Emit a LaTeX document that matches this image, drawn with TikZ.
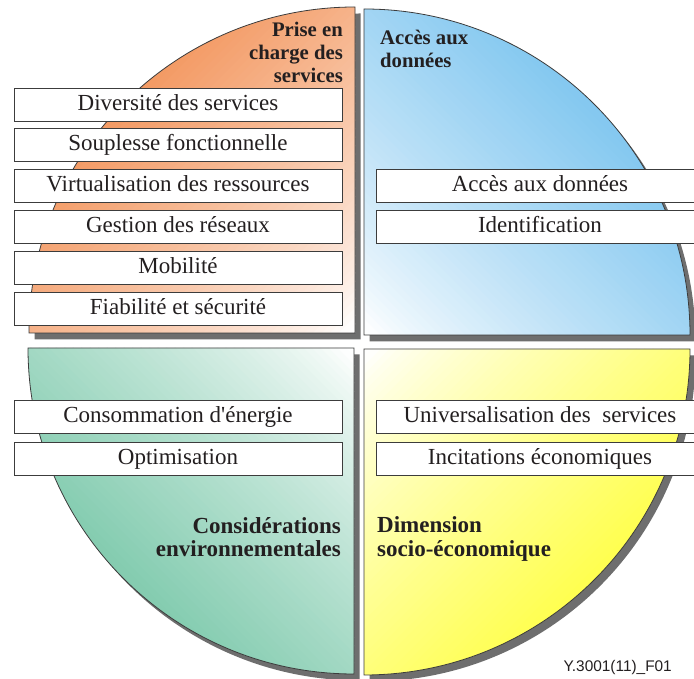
\documentclass[tikz,border=0pt]{standalone}
\usepackage{fontspec}
\setmainfont{Liberation Serif}
\newfontfamily\labelsans{Liberation Sans}
\definecolor{qorange}{HTML}{F39A64}
\definecolor{qblue}{HTML}{84C8F0}
\definecolor{qgreen}{HTML}{84CCB0}
\definecolor{qyellow}{HTML}{FFFF50}
\definecolor{qline}{HTML}{3C3C3C}
\definecolor{qshadow}{HTML}{6E6E6E}
\definecolor{qtext}{HTML}{231F20}
\newcommand\quadgrad[1]{% #1 colour
  \foreach \k in {0,...,57} {
    \pgfmathsetmacro\tA{-12+6*\k}
    \pgfmathsetmacro\pc{100*pow(max(0.001,min(1,(\tA-4)/316)),0.8)}
    \fill[#1!\pc!white] (\tA,-420) rectangle (\tA+6.8,420);
  }}
\begin{document}
\begin{tikzpicture}[x=1pt,y=1pt,
  quad/.style={draw=qline,line width=0.8pt},
  shadowq/.style={fill=qshadow},
  itembox/.style={draw=qline,fill=white,line width=0.8pt,minimum width=328pt,minimum height=33pt,
    inner sep=0pt,text height=17pt,text depth=5pt,text=qtext,font=\fontsize{23}{26}\selectfont},
  ttlsmall/.style={inner sep=0pt,text=qtext,font=\fontsize{20.7}{23}\selectfont\bfseries},
  ttlbig/.style={inner sep=0pt,text=qtext,font=\fontsize{23}{26}\selectfont\bfseries}]
\useasboundingbox (0,0) rectangle (694,679);
\clip (0,0) rectangle (694,679);
\fill[white] (0,0) rectangle (694,679);
% shadows
\fill[shadowq,shift={(5.5,-6.5)}] (355,346) -- ++(-326,0) arc (180:90:326) -- cycle;
\fill[shadowq,shift={(5.5,-6.5)}] (364,344) -- ++(0,326) arc (90:0:326) -- cycle;
\fill[shadowq,shift={(5.5,-6.5)}] (354,331) -- ++(-326,0) arc (180:270:326) -- cycle;
\fill[shadowq,shift={(5.5,-6.5)}] (364,330) -- ++(326,0) arc (0:-90:326) -- cycle;
% quadrant fills (diagonal gradients)
\begin{scope}
  \clip (355,346) -- ++(-326,0) arc (180:90:326) -- cycle;
  \begin{scope}[shift={(355,346)},rotate=135]\quadgrad{qorange}\end{scope}
\end{scope}
\begin{scope}
  \clip (364,344) -- ++(0,326) arc (90:0:326) -- cycle;
  \begin{scope}[shift={(364,344)},rotate=45]\quadgrad{qblue}\end{scope}
\end{scope}
\begin{scope}
  \clip (354,331) -- ++(-326,0) arc (180:270:326) -- cycle;
  \begin{scope}[shift={(354,331)},rotate=225]\quadgrad{qgreen}\end{scope}
\end{scope}
\begin{scope}
  \clip (364,330) -- ++(326,0) arc (0:-90:326) -- cycle;
  \begin{scope}[shift={(364,330)},rotate=-45]\quadgrad{qyellow}\end{scope}
\end{scope}
% quadrant outlines
\draw[quad] (355,346) -- ++(-326,0) arc (180:90:326) -- cycle;
\draw[quad] (364,344) -- ++(0,326) arc (90:0:326) -- cycle;
\draw[quad] (354,331) -- ++(-326,0) arc (180:270:326) -- cycle;
\draw[quad] (364,330) -- ++(326,0) arc (0:-90:326) -- cycle;
% titles
\node[ttlsmall,anchor=base east] (t1a) at (343,642) {Prise en};
\node[ttlsmall,anchor=base east] (t1b) at (343,619) {charge des};
\node[ttlsmall,anchor=base east] (t1c) at (343,596) {services};
\node[ttlsmall,anchor=base west] (t2a) at (380,634) {Accès aux};
\node[ttlsmall,anchor=base west] (t2b) at (380,611) {données};
\node[ttlbig,anchor=base east] (t3a) at (341,145) {Considérations};
\node[ttlbig,anchor=base east] (t3b) at (341,122) {environnementales};
\node[ttlbig,anchor=base west] (t4a) at (377,146) {Dimension};
\node[ttlbig,anchor=base west] (t4b) at (377,122) {socio-économique};
% boxes
\node[itembox] (b1) at (178,574.5) {Diversité des services};
\node[itembox] (b2) at (178,534) {Souplesse fonctionnelle};
\node[itembox] (b3) at (178,493) {Virtualisation des ressources};
\node[itembox] (b4) at (178,452) {Gestion des réseaux};
\node[itembox] (b5) at (178,411) {Mobilité};
\node[itembox] (b6) at (178,370) {Fiabilité et sécurité};
\node[itembox] (b7) at (540,493) {Accès aux données};
\node[itembox] (b8) at (540,452) {Identification};
\node[itembox] (b9) at (178,262) {Consommation d\textquotesingle énergie};
\node[itembox] (b10) at (178,220) {Optimisation};
\node[itembox] (b11) at (540,262) {Universalisation des\ \ services};
\node[itembox] (b12) at (540,220) {Incitations économiques};
\node[inner sep=0pt,anchor=base east,text=qtext,font=\labelsans\fontsize{15.4}{18}\selectfont] (lbl) at (672,7) {Y.3001(11)\_F01};
\end{tikzpicture}
\end{document}
